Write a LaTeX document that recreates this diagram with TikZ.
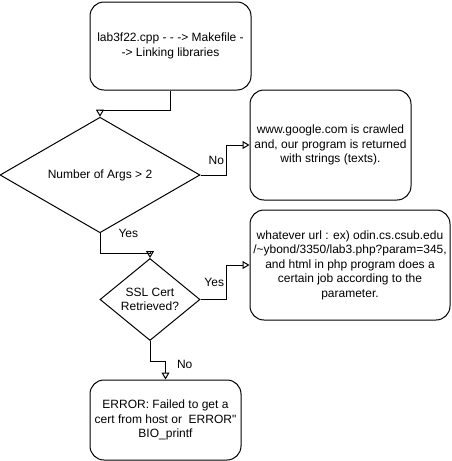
\documentclass[tikz,border=0pt]{standalone}
\usepackage{fontspec}
\setmainfont{Liberation Sans}[Ligatures=TeXOff]
\usepackage{tikz}
\usetikzlibrary{shapes.geometric, arrows.meta}

\begin{document}
\begin{tikzpicture}[x=1pt, y=-1pt, line width=1pt,
  every node/.style={font=\fontsize{12}{14.5}\selectfont},
  box/.style={draw, rounded corners=14pt, align=center, inner sep=0pt},
  decision/.style={draw, diamond, align=center, inner sep=0pt},
  flow/.style={-{Triangle[open, length=7pt, width=8pt]}},
  lbl/.style={inner sep=2pt}]
\useasboundingbox (0,0) rectangle (451,461);
% steps
\node[box, minimum width=161pt, minimum height=88pt] (start) at (170.5,46)
  {lab3f22.cpp - - -> Makefile -\\-> Linking libraries};
\node[decision, minimum width=200pt, minimum height=90pt] (args) at (100,175)
  {Number of Args > 2};
\node[box, minimum width=161pt, minimum height=110pt] (google) at (330.5,145)
  {www.google.com is crawled\\and, our program is returned\\with strings (texts).};
\node[decision, minimum width=100pt, minimum height=82pt] (ssl) at (150,299.5)
  {SSL Cert\\Retrieved?};
\node[box, minimum width=200pt, minimum height=110pt] (url) at (350,265)
  {whatever url : ex) odin.cs.csub.edu\\/\textasciitilde ybond/3350/lab3.php?param=345,\\and html in php program does a\\certain job according to the\\parameter.};
\node[box, minimum width=151pt, minimum height=80pt] (err) at (165.5,420)
  {ERROR: Failed to get a\\cert from host or\ \ ERROR"\\BIO\_printf};
% connectors
\draw[flow] (start.south) -- ++(0,20) -| (args.north);
\draw[flow] (args.east) -- ++(26,0) |- node[lbl, pos=0.25, left] (no1) {No} (google.west);
\draw[flow] (args.south) node[lbl, anchor=west, xshift=16pt] (yes1) {Yes} -- ++(0,20) -| (ssl.north);
\draw[flow] (ssl.east) -- ++(26,0) |- node[lbl, pos=0.25, left] (yes2) {Yes} (url.west);
\draw[flow] (ssl.south) -- ++(0,20) -| node[lbl, pos=0.5, anchor=west, xshift=9pt, yshift=-3pt] (no2) {No} (err.north);
\end{tikzpicture}
\end{document}
